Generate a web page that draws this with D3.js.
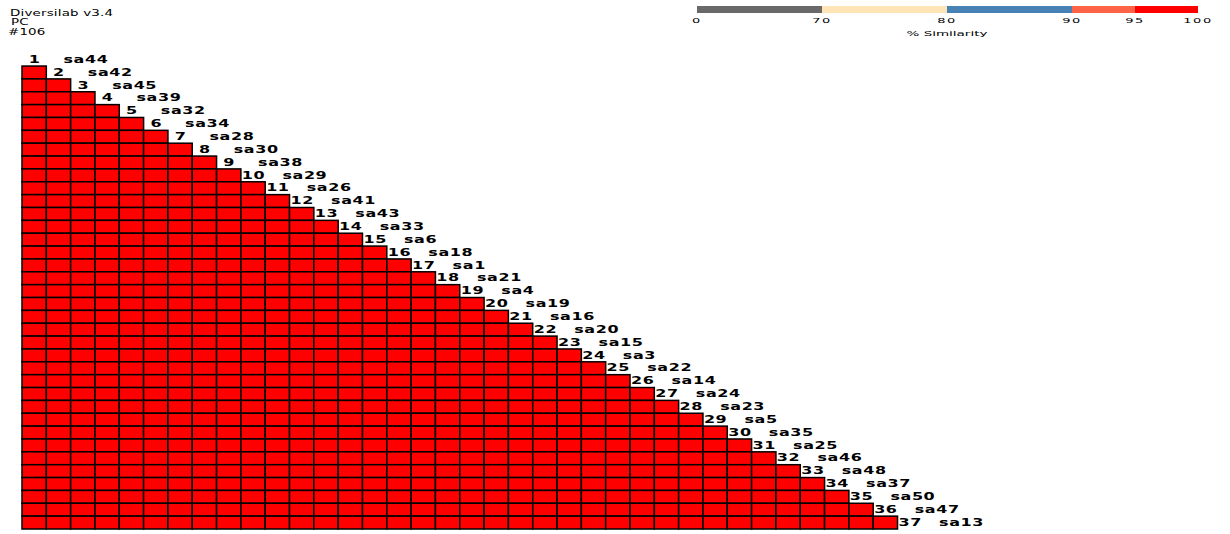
<!DOCTYPE html>
<html><head><meta charset="utf-8">
<script src="https://cdn.jsdelivr.net/npm/d3@7"></script>
<style>body{margin:0;background:#fff}svg{display:block}</style>
</head><body>
<svg id="chart" width="1230" height="534"></svg>
<script>
// Isolates in dendrogram order (row/column order of the matrix)
const isolates = ["sa44","sa42","sa45","sa39","sa32","sa34","sa28","sa30","sa38","sa29",
  "sa26","sa41","sa43","sa33","sa6","sa18","sa1","sa21","sa4","sa19",
  "sa16","sa20","sa15","sa3","sa22","sa14","sa24","sa23","sa5","sa35",
  "sa25","sa46","sa48","sa37","sa50","sa47","sa13"];

const headerLines = ["Diversilab v3.4", "PC", "#106"];

// Similarity bands of the colour key
const bandStops = [0, 70, 80, 90, 95, 100];
const bandColors = ["#696969", "#ffe4b5", "#4682b4", "#ff6347", "#ff0000"];
const bandTicks = ["0", "70", "80", "90", "95", "100"];
const legendTitle = "% Similarity";

// Pairwise % similarity: row i holds isolate i+2 against isolates 1..i+1
const similarity = [
[100],
[100,100],
[100,100,100],
[100,100,100,100],
[100,100,100,100,100],
[100,100,100,100,100,100],
[100,100,100,100,100,100,100],
[100,100,100,100,100,100,100,100],
[100,100,100,100,100,100,100,100,100],
[100,100,100,100,100,100,100,100,100,100],
[100,100,100,100,100,100,100,100,100,100,100],
[100,100,100,100,100,100,100,100,100,100,100,100],
[100,100,100,100,100,100,100,100,100,100,100,100,100],
[100,100,100,100,100,100,100,100,100,100,100,100,100,100],
[100,100,100,100,100,100,100,100,100,100,100,100,100,100,100],
[100,100,100,100,100,100,100,100,100,100,100,100,100,100,100,100],
[100,100,100,100,100,100,100,100,100,100,100,100,100,100,100,100,100],
[100,100,100,100,100,100,100,100,100,100,100,100,100,100,100,100,100,100],
[100,100,100,100,100,100,100,100,100,100,100,100,100,100,100,100,100,100,100],
[100,100,100,100,100,100,100,100,100,100,100,100,100,100,100,100,100,100,100,100],
[100,100,100,100,100,100,100,100,100,100,100,100,100,100,100,100,100,100,100,100,100],
[100,100,100,100,100,100,100,100,100,100,100,100,100,100,100,100,100,100,100,100,100,100],
[100,100,100,100,100,100,100,100,100,100,100,100,100,100,100,100,100,100,100,100,100,100,100],
[100,100,100,100,100,100,100,100,100,100,100,100,100,100,100,100,100,100,100,100,100,100,100,100],
[100,100,100,100,100,100,100,100,100,100,100,100,100,100,100,100,100,100,100,100,100,100,100,100,100],
[100,100,100,100,100,100,100,100,100,100,100,100,100,100,100,100,100,100,100,100,100,100,100,100,100,100],
[100,100,100,100,100,100,100,100,100,100,100,100,100,100,100,100,100,100,100,100,100,100,100,100,100,100,100],
[100,100,100,100,100,100,100,100,100,100,100,100,100,100,100,100,100,100,100,100,100,100,100,100,100,100,100,100],
[100,100,100,100,100,100,100,100,100,100,100,100,100,100,100,100,100,100,100,100,100,100,100,100,100,100,100,100,100],
[100,100,100,100,100,100,100,100,100,100,100,100,100,100,100,100,100,100,100,100,100,100,100,100,100,100,100,100,100,100],
[100,100,100,100,100,100,100,100,100,100,100,100,100,100,100,100,100,100,100,100,100,100,100,100,100,100,100,100,100,100,100],
[100,100,100,100,100,100,100,100,100,100,100,100,100,100,100,100,100,100,100,100,100,100,100,100,100,100,100,100,100,100,100,100],
[100,100,100,100,100,100,100,100,100,100,100,100,100,100,100,100,100,100,100,100,100,100,100,100,100,100,100,100,100,100,100,100,100],
[100,100,100,100,100,100,100,100,100,100,100,100,100,100,100,100,100,100,100,100,100,100,100,100,100,100,100,100,100,100,100,100,100,100],
[100,100,100,100,100,100,100,100,100,100,100,100,100,100,100,100,100,100,100,100,100,100,100,100,100,100,100,100,100,100,100,100,100,100,100],
[100,100,100,100,100,100,100,100,100,100,100,100,100,100,100,100,100,100,100,100,100,100,100,100,100,100,100,100,100,100,100,100,100,100,100,100]
];

const svg = d3.select("#chart");
const n = isolates.length;

// Grid scales: column = isolate index, row 0 carries the first label only
const x = d3.scaleBand().domain(d3.range(n)).range([22, 22 + n * 24.32]);
const y = d3.scaleBand().domain(d3.range(n)).range([529 - n * 12.86, 529]);
const color = d3.scaleThreshold().domain(bandStops.slice(1, -1)).range(bandColors);

// Text is drawn vertically compressed, as in the original export
function squashed(sel, sy) {
  return sel.attr("transform", d => `translate(${d.tx},${d.ty}) scale(1,${sy})`);
}

// Header
const headerX = [10, 11, 8];
squashed(svg.append("g").selectAll("text").data(headerLines.map((t, i) => ({t, tx: headerX[i], ty: 15.5 + i * 9.6})))
  .join("text"), 0.6)
  .attr("font-family", "DejaVu Sans").attr("font-size", 13.4).attr("letter-spacing", 0.2)
  .attr("fill", "#000")
  .text(d => d.t);

// Matrix cells
const cells = [];
similarity.forEach((row, r) => row.forEach((v, c) => cells.push({r: r + 1, c, v})));
svg.append("g").selectAll("rect").data(cells).join("rect")
  .attr("x", d => x(d.c)).attr("y", d => y(d.r))
  .attr("width", x.bandwidth()).attr("height", y.bandwidth())
  .attr("fill", d => color(d.v))
  .attr("stroke", "#000").attr("stroke-width", 1.5);

// Isolate number and name at the diagonal end of each row
const labels = isolates.map((name, i) => ({name, i}));
const lab = svg.append("g").attr("font-family", "DejaVu Sans").attr("font-weight", "bold")
  .attr("font-size", 16).attr("letter-spacing", 0.6).attr("fill", "#000");
squashed(lab.selectAll("text.num").data(labels.map(d => ({...d, tx: x(d.i) + x.bandwidth() / 2 + 0.5, ty: y(d.i) + 9.6})))
  .join("text").attr("class", "num"), 0.66)
  .attr("text-anchor", "middle").text(d => d.i + 1);
squashed(lab.selectAll("text.name").data(labels.map(d => ({...d, tx: x(d.i) + 41.5, ty: y(d.i) + 9.6})))
  .join("text").attr("class", "name"), 0.66)
  .text(d => d.name);

// Colour key
const lx = d3.scaleLinear().domain(bandStops).range([697, 822, 947, 1072, 1135, 1198]);
const key = svg.append("g");
key.selectAll("rect").data(bandColors.map((col, i) => ({col, a: bandStops[i], b: bandStops[i + 1]})))
  .join("rect")
  .attr("x", d => lx(d.a)).attr("y", 6).attr("width", d => lx(d.b) - lx(d.a)).attr("height", 7)
  .attr("fill", d => d.col);
squashed(key.selectAll("text.tick").data(bandTicks.map((t, i) => ({t, tx: lx(bandStops[i]), ty: 23})))
  .join("text").attr("class", "tick"), 0.5)
  .attr("font-family", "DejaVu Sans").attr("font-size", 13).attr("letter-spacing", 1.5)
  .attr("text-anchor", "middle").attr("fill", "#000").text(d => d.t);
squashed(key.selectAll("text.title").data([{t: legendTitle, tx: lx(80), ty: 36}])
  .join("text").attr("class", "title"), 0.5)
  .attr("font-family", "DejaVu Sans").attr("font-size", 13.5)
  .attr("text-anchor", "middle").attr("fill", "#000").text(d => d.t);
</script>
</body></html>
